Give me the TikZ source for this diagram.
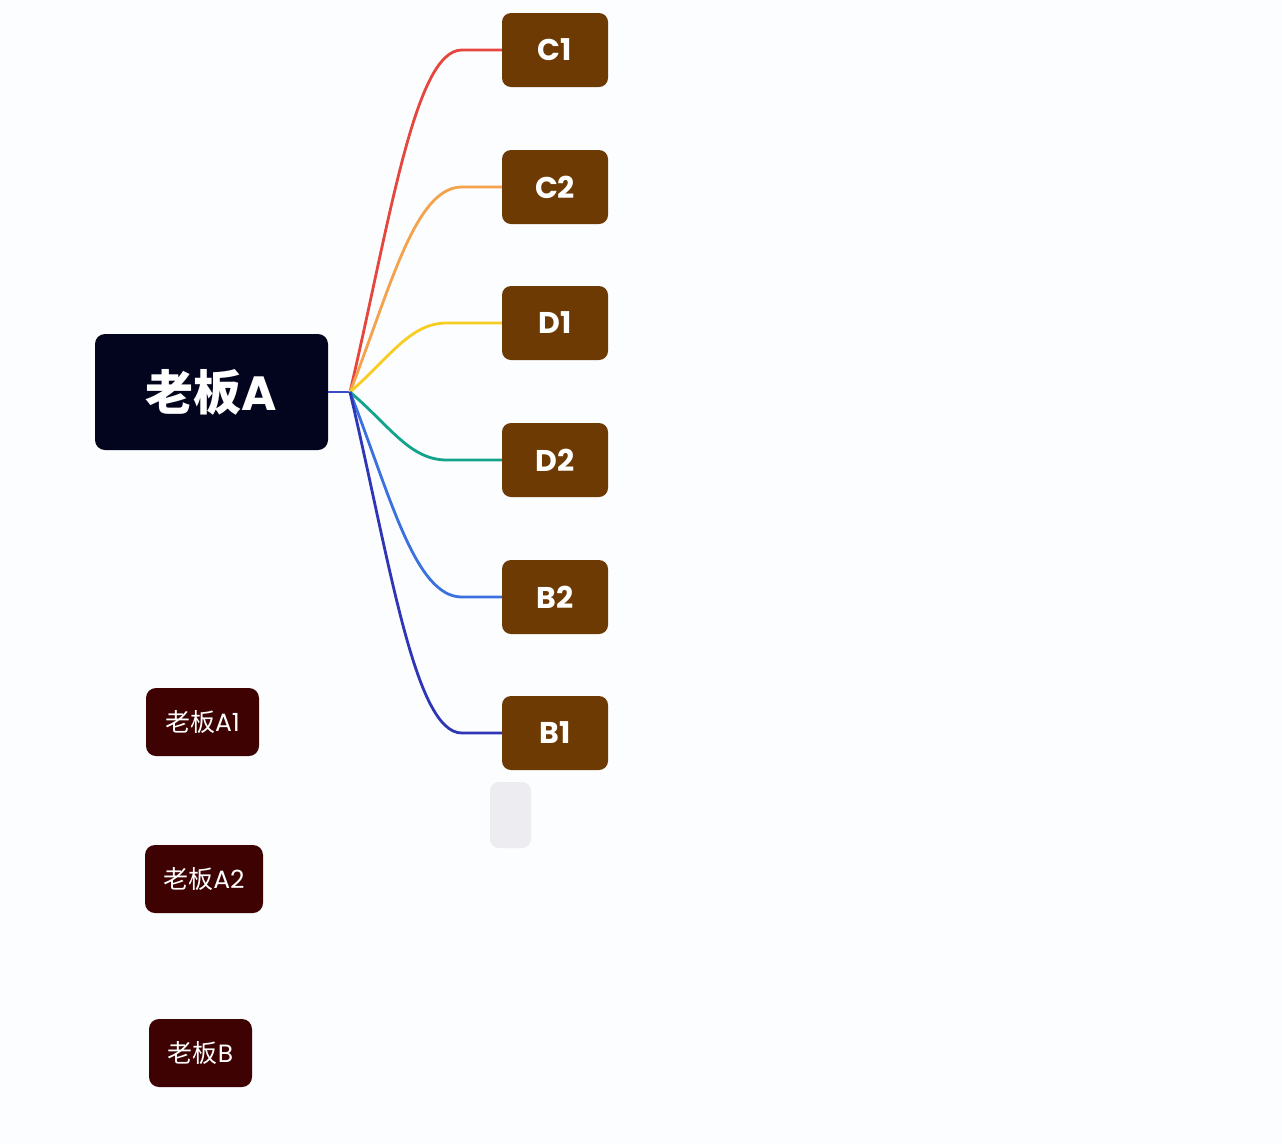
\documentclass[tikz,border=0pt]{standalone}
\usepackage{fontspec}
\usetikzlibrary{calc}
\setmainfont{Poppins}
\newfontfamily\cjk{Noto Sans CJK SC}
\definecolor{bgc}{HTML}{FCFDFF}
\definecolor{rootc}{HTML}{03051F}
\definecolor{brownc}{HTML}{6C3A02}
\definecolor{redbox}{HTML}{3F0202}
\definecolor{grayc}{HTML}{ECECF1}
\definecolor{lc1}{HTML}{E5463E}
\definecolor{lc2}{HTML}{F4A24B}
\definecolor{ld1}{HTML}{F8CD22}
\definecolor{ld2}{HTML}{11A38C}
\definecolor{lb2}{HTML}{3B70E0}
\definecolor{lb1}{HTML}{2F36B5}
\definecolor{stubc}{HTML}{3A4BC6}
\tikzset{
  rootbox/.style={fill=rootc, rounded corners=10pt, minimum width=233pt, minimum height=116pt, text=white, inner sep=0pt, font=\fontsize{48}{54}\selectfont\bfseries},
  leafbox/.style={fill=brownc, rounded corners=9pt, minimum width=106pt, minimum height=74pt, text=white, inner sep=0pt, font=\fontsize{30}{36}\selectfont\bfseries},
  smallbox/.style={fill=redbox, rounded corners=10pt, minimum height=68pt, text=white, inner sep=0pt, font=\fontsize{25}{30}\selectfont},
  link/.style={line width=2.8pt},
}
\begin{document}
\begin{tikzpicture}[x=1pt,y=-1pt]
\fill[bgc] (0,0) rectangle (1282,1144);
\useasboundingbox (0,0) rectangle (1282,1144);
\node[rootbox] (root) at (211.5,392) {{\cjk\bfseries 老板}A};
\node[leafbox] (c1) at (555,50) {C1};
\node[leafbox] (c2) at (555,187) {C2};
\node[leafbox] (d1) at (555,323) {D1};
\node[leafbox] (d2) at (555,460) {D2};
\node[leafbox] (b2) at (555,597) {B2};
\node[leafbox] (b1) at (555,733) {B1};
\node[smallbox, minimum width=113pt] (a1) at (202.5,722) {{\cjk 老板}A1};
\node[smallbox, minimum width=118pt] (a2) at (204,879) {{\cjk 老板}A2};
\node[smallbox, minimum width=103pt] (bb) at (200.5,1053) {{\cjk 老板}B};
\node[fill=grayc, rounded corners=9pt, minimum width=41pt, minimum height=66pt, inner sep=0pt] (gray) at (510.5,815) {};
\coordinate (hub) at (350,392);
\draw[line width=2.8pt, stubc] (root.east) -- (hub);
\draw[link, lc1] (hub) .. controls ($(hub)+(40,-171)$) and ([xshift=-87pt]c1.west) .. ([xshift=-40pt]c1.west) -- (c1.west);
\draw[link, lc2] (hub) .. controls ($(hub)+(40,-102.5)$) and ([xshift=-87pt]c2.west) .. ([xshift=-40pt]c2.west) -- (c2.west);
\draw[link, ld1] (hub) .. controls ($(hub)+(40,-34.5)$) and ([xshift=-92pt]d1.west) .. ([xshift=-55pt]d1.west) -- (d1.west);
\draw[link, ld2] (hub) .. controls ($(hub)+(40,34)$) and ([xshift=-92pt]d2.west) .. ([xshift=-55pt]d2.west) -- (d2.west);
\draw[link, lb2] (hub) .. controls ($(hub)+(40,102.5)$) and ([xshift=-87pt]b2.west) .. ([xshift=-40pt]b2.west) -- (b2.west);
\draw[link, lb1] (hub) .. controls ($(hub)+(40,170.5)$) and ([xshift=-87pt]b1.west) .. ([xshift=-40pt]b1.west) -- (b1.west);
\end{tikzpicture}
\end{document}
